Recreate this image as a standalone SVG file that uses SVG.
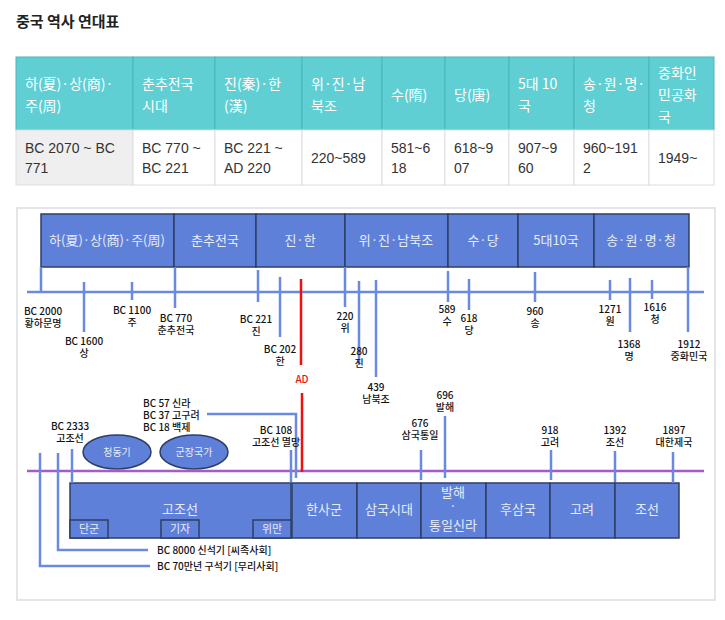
<svg xmlns="http://www.w3.org/2000/svg" width="725" height="620" viewBox="0 0 725 620">
<style>
text{font-family:"Noto Sans CJK KR","Noto Sans",sans-serif}
.th{fill:#5fcfd4;stroke:#4bb5bb;stroke-width:1}
.td{fill:#fff;stroke:#ddd;stroke-width:1}
.ht{fill:#fff;font-size:14px}
.bt{fill:#333;font-size:14px;font-family:"Liberation Sans","Noto Sans CJK KR",sans-serif}
.blk{fill:#5f80d8;stroke:#2e3f66;stroke-width:1.5}
.bl{fill:#e6ecfb;font-size:13px;text-anchor:middle}
.sl{fill:#e6ecfb;font-size:11px;text-anchor:middle}
.tk{stroke:#6a8ae0;stroke-width:2.5;fill:none}
.lb{fill:#111;font-size:10px;text-anchor:middle;font-weight:500}
.ll{fill:#111;font-size:10px;font-weight:500}
</style>
<rect width="725" height="620" fill="#fff"/>
<text x="16" y="27" font-size="15" font-weight="bold" fill="#222">중국 역사 연대표</text>
<g id="table">
<rect class="th" x="16" y="57" width="117" height="73"/>
<rect class="th" x="133" y="57" width="82" height="73"/>
<rect class="th" x="215" y="57" width="87" height="73"/>
<rect class="th" x="302" y="57" width="80" height="73"/>
<rect class="th" x="382" y="57" width="63" height="73"/>
<rect class="th" x="445" y="57" width="64" height="73"/>
<rect class="th" x="509" y="57" width="65" height="73"/>
<rect class="th" x="574" y="57" width="75" height="73"/>
<rect class="th" x="649" y="57" width="65" height="73"/>
<rect class="td" x="16" y="130" width="117" height="55" style="fill:#efefef"/>
<rect class="td" x="133" y="130" width="82" height="55"/>
<rect class="td" x="215" y="130" width="87" height="55"/>
<rect class="td" x="302" y="130" width="80" height="55"/>
<rect class="td" x="382" y="130" width="63" height="55"/>
<rect class="td" x="445" y="130" width="64" height="55"/>
<rect class="td" x="509" y="130" width="65" height="55"/>
<rect class="td" x="574" y="130" width="75" height="55"/>
<rect class="td" x="649" y="130" width="65" height="55"/>
<text class="ht" x="25" y="89">하(夏)·상(商)·</text><text class="ht" x="25" y="111">주(周)</text>
<text class="ht" x="142" y="89">춘추전국</text><text class="ht" x="142" y="111">시대</text>
<text class="ht" x="224" y="89">진(秦)·한</text><text class="ht" x="224" y="111">(漢)</text>
<text class="ht" x="311" y="89">위·진·남</text><text class="ht" x="311" y="111">북조</text>
<text class="ht" x="391" y="100">수(隋)</text>
<text class="ht" x="454" y="100">당(唐)</text>
<text class="ht" x="518" y="89">5대 10</text><text class="ht" x="518" y="111">국</text>
<text class="ht" x="583" y="89">송·원·명·</text><text class="ht" x="583" y="111">청</text>
<text class="ht" x="658" y="78">중화인</text><text class="ht" x="658" y="100">민공화</text><text class="ht" x="658" y="122">국</text>
<text class="bt" x="25" y="153">BC 2070 ~ BC</text><text class="bt" x="25" y="173">771</text>
<text class="bt" x="142" y="153">BC 770 ~</text><text class="bt" x="142" y="173">BC 221</text>
<text class="bt" x="224" y="153">BC 221 ~</text><text class="bt" x="224" y="173">AD 220</text>
<text class="bt" x="311" y="163">220~589</text>
<text class="bt" x="391" y="153">581~6</text><text class="bt" x="391" y="173">18</text>
<text class="bt" x="454" y="153">618~9</text><text class="bt" x="454" y="173">07</text>
<text class="bt" x="518" y="153">907~9</text><text class="bt" x="518" y="173">60</text>
<text class="bt" x="583" y="153">960~191</text><text class="bt" x="583" y="173">2</text>
<text class="bt" x="658" y="163">1949~</text>
</g>
<rect x="17" y="208" width="698" height="392" fill="#fff" stroke="#ddd" stroke-width="1.5"/>
<g id="top-blocks">
<rect class="blk" x="41" y="214" width="133" height="53"/><text class="bl" x="107" y="245">하(夏)·상(商)·주(周)</text>
<rect class="blk" x="174" y="214" width="82" height="53"/><text class="bl" x="215" y="245">춘추전국</text>
<rect class="blk" x="256" y="214" width="89" height="53"/><text class="bl" x="300" y="245">진·한</text>
<rect class="blk" x="345" y="214" width="103" height="53"/><text class="bl" x="396" y="245">위·진·남북조</text>
<rect class="blk" x="448" y="214" width="70" height="53"/><text class="bl" x="483" y="245">수·당</text>
<rect class="blk" x="518" y="214" width="76" height="53"/><text class="bl" x="556" y="245">5대10국</text>
<rect class="blk" x="594" y="214" width="95" height="53"/><text class="bl" x="641" y="245">송·원·명·청</text>
</g>
<g id="bottom-blocks">
<rect class="blk" x="70" y="483" width="221" height="55"/><text class="bl" x="180" y="514">고조선</text>
<rect class="blk" x="70" y="520" width="38" height="18"/><text class="sl" x="89" y="533">단군</text>
<rect class="blk" x="161" y="520" width="38" height="18"/><text class="sl" x="180" y="533">기자</text>
<rect class="blk" x="253" y="520" width="38" height="18"/><text class="sl" x="272" y="533">위만</text>
<rect class="blk" x="292" y="483" width="65" height="55"/><text class="bl" x="324" y="514">한사군</text>
<rect class="blk" x="357" y="483" width="64" height="55"/><text class="bl" x="389" y="514">삼국시대</text>
<rect class="blk" x="421" y="483" width="65" height="55"/><text class="bl" x="453" y="497">발해</text><text class="bl" x="453" y="511">·</text><text class="bl" x="453" y="530">통일신라</text>
<rect class="blk" x="486" y="483" width="64" height="55"/><text class="bl" x="518" y="514">후삼국</text>
<rect class="blk" x="550" y="483" width="65" height="55"/><text class="bl" x="582" y="514">고려</text>
<rect class="blk" x="615" y="483" width="64" height="55"/><text class="bl" x="647" y="514">조선</text>
<ellipse class="blk" cx="117" cy="452" rx="34" ry="17"/><text class="sl" x="117" y="456" style="font-size:10px">청동기</text>
<ellipse class="blk" cx="194" cy="452" rx="34" ry="17"/><text class="sl" x="194" y="456" style="font-size:10px">군장국가</text>
</g>
<g id="connectors">
<line x1="27" y1="292" x2="704" y2="292" stroke="#6a8ae0" stroke-width="2.5"/>
<line x1="27" y1="471" x2="704" y2="471" stroke="#a45cc8" stroke-width="2.5"/>
<path class="tk" d="M41 267V292M84 282V332M132 282V300M175 267V308M258 270V302M280 277V337M345 267V307M359 281V365M376 280V377M448 271V302M469 279V310M535 272V302M610 280V300M630 278V332M652 280V299M688 267V332"/>
<path class="tk" d="M40 453V566H150M58 453V550H148M72 449V483M291 450V482M207 414H296V478M421 450V480M445 416V478M551 450V480M615 451V482M673 452V483"/>
<path d="M301 279V365M302 393V472" stroke="#f01010" stroke-width="2.5" fill="none"/>
</g>
<g id="labels">
<text class="lb" x="43" y="315">BC 2000</text><text class="lb" x="43" y="327">황하문명</text>
<text class="lb" x="84" y="345">BC 1600</text><text class="lb" x="84" y="357">상</text>
<text class="lb" x="132" y="314">BC 1100</text><text class="lb" x="132" y="326">주</text>
<text class="lb" x="176" y="322">BC 770</text><text class="lb" x="176" y="334">춘추전국</text>
<text class="lb" x="256" y="323">BC 221</text><text class="lb" x="256" y="335">진</text>
<text class="lb" x="280" y="353">BC 202</text><text class="lb" x="280" y="365">한</text>
<text class="lb" x="302" y="383" style="fill:#f01010">AD</text>
<text class="lb" x="345" y="320">220</text><text class="lb" x="345" y="332">위</text>
<text class="lb" x="359" y="355">280</text><text class="lb" x="359" y="367">진</text>
<text class="lb" x="376" y="391">439</text><text class="lb" x="376" y="403">남북조</text>
<text class="lb" x="447" y="313">589</text><text class="lb" x="447" y="325">수</text>
<text class="lb" x="469" y="322">618</text><text class="lb" x="469" y="334">당</text>
<text class="lb" x="535" y="315">960</text><text class="lb" x="535" y="327">송</text>
<text class="lb" x="610" y="313">1271</text><text class="lb" x="610" y="325">원</text>
<text class="lb" x="629" y="348">1368</text><text class="lb" x="629" y="360">명</text>
<text class="lb" x="655" y="311">1616</text><text class="lb" x="655" y="323">청</text>
<text class="lb" x="689" y="348">1912</text><text class="lb" x="689" y="360">중화민국</text>
<text class="ll" x="143" y="407">BC 57 신라</text><text class="ll" x="143" y="419">BC 37 고구려</text><text class="ll" x="143" y="431">BC 18 백제</text>
<text class="lb" x="70" y="430">BC 2333</text><text class="lb" x="70" y="442">고조선</text>
<text class="lb" x="276" y="434">BC 108</text><text class="lb" x="276" y="446">고조선 멸망</text>
<text class="lb" x="445" y="399">696</text><text class="lb" x="445" y="411">발해</text>
<text class="lb" x="420" y="427">676</text><text class="lb" x="420" y="439">삼국통일</text>
<text class="lb" x="550" y="434">918</text><text class="lb" x="550" y="446">고려</text>
<text class="lb" x="615" y="434">1392</text><text class="lb" x="615" y="446">조선</text>
<text class="lb" x="674" y="434">1897</text><text class="lb" x="674" y="446">대한제국</text>
<text class="ll" x="157" y="554">BC 8000 신석기 [씨족사회]</text>
<text class="ll" x="157" y="570">BC 70만년 구석기 [무리사회]</text>
</g>
</svg>
